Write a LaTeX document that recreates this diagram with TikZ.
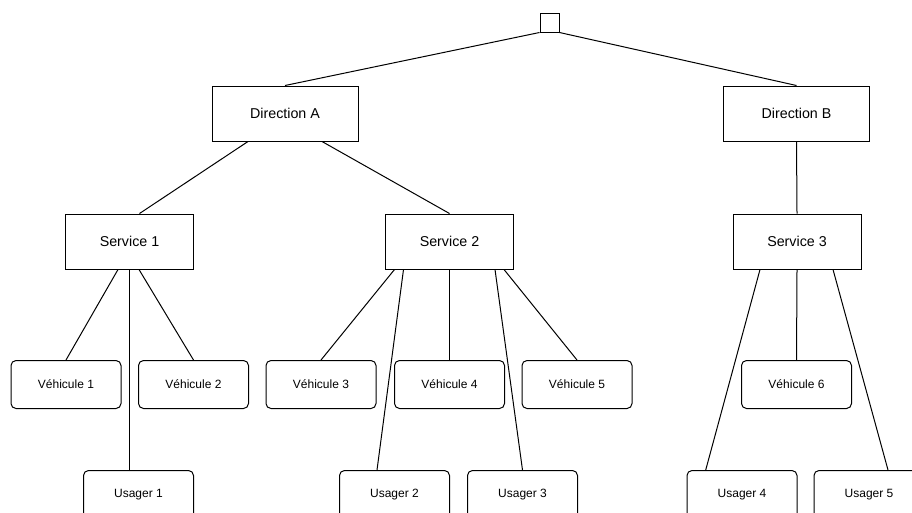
\documentclass[tikz,border=0pt]{standalone}
\usepackage{fontspec}
\setmainfont{Liberation Sans}
\usetikzlibrary{calc}

\tikzset{every picture/.style={line width=0.75pt}}
\tikzset{
  rootbox/.style={draw, minimum width=14.25pt, minimum height=14.25pt, inner sep=0pt},
  dirbox/.style={draw, minimum width=109.5pt, minimum height=41.25pt, inner sep=0pt, font=\fontsize{10.7}{13}\selectfont},
  servbox/.style={draw, minimum width=96pt, minimum height=41.25pt, inner sep=0pt, font=\fontsize{10.7}{13}\selectfont},
  leafbox/.style={draw, rounded corners=3.75pt, minimum width=82.5pt, minimum height=36pt, inner sep=0pt, font=\fontsize{9}{11}\selectfont},
  link/.style={line width=0.75pt}
}

\begin{document}
\begin{tikzpicture}[x=0.75pt,y=0.75pt,yscale=-1,xscale=1]
%set diagram left start at 0, and has height of 512
\clip (0,0) rectangle (912,512);

%Shape: Square [id:root]
\node [rootbox] (root) at (549.5,22.5) {};

%Shape: Rectangle [id:directions]
\node [dirbox] (dirA) at (285,113.5) {Direction A};
\node [dirbox] (dirB) at (796.5,113.5) {Direction B};

%Shape: Rectangle [id:services]
\node [servbox] (serv1) at (129.5,241.5) {Service 1};
\node [servbox] (serv2) at (449.5,241.5) {Service 2};
\node [servbox] (serv3) at (797,241.5) {Service 3};

%Rounded Rect [id:vehicules]
\node [leafbox] (veh1) at (66,384.5) {Véhicule 1};
\node [leafbox] (veh2) at (193.5,384.5) {Véhicule 2};
\node [leafbox] (veh3) at (321,384.5) {Véhicule 3};
\node [leafbox] (veh4) at (449.5,384.5) {Véhicule 4};
\node [leafbox] (veh5) at (577,384.5) {Véhicule 5};
\node [leafbox] (veh6) at (796.5,384.5) {Véhicule 6};

%Rounded Rect [id:usagers]
\node [leafbox] (usr1) at (138.5,494.5) {Usager 1};
\node [leafbox] (usr2) at (394.5,494.5) {Usager 2};
\node [leafbox] (usr3) at (522.5,494.5) {Usager 3};
\node [leafbox] (usr4) at (742,494.5) {Usager 4};
\node [leafbox] (usr5) at (869,494.5) {Usager 5};

%Straight Lines [id:root links]
\draw [link] (root.south west) -- (dirA.north) ;
\draw [link] (root.south east) -- (dirB.north) ;
%Straight Lines [id:direction links]
\draw [link] ($(dirA.south)+(-37,0)$) -- ($(serv1.north)+(10,0)$) ;
\draw [link] ($(dirA.south)+(37,0)$) -- (serv2.north) ;
\draw [link] (dirB.south) -- (serv3.north) ;
%Straight Lines [id:service 1 links]
\draw [link] ($(serv1.south)+(-11.5,0)$) -- (veh1.north) ;
\draw [link] (serv1.south) -- ($(usr1.north)+(-9,0)$) ;
\draw [link] ($(serv1.south)+(9.5,0)$) -- (veh2.north) ;
%Straight Lines [id:service 2 links]
\draw [link] ($(serv2.south)+(-55,0)$) -- (veh3.north) ;
\draw [link] ($(serv2.south)+(-46,0)$) -- ($(usr2.north)+(-17.5,0)$) ;
\draw [link] (serv2.south) -- (veh4.north) ;
\draw [link] ($(serv2.south)+(45.5,0)$) -- (usr3.north) ;
\draw [link] ($(serv2.south)+(54.5,0)$) -- (veh5.north) ;
%Straight Lines [id:service 3 links]
\draw [link] ($(serv3.south)+(-37,0)$) -- ($(usr4.north)+(-36.3,0)$) ;
\draw [link] (serv3.south) -- (veh6.north) ;
\draw [link] ($(serv3.south)+(36,0)$) -- ($(usr5.north)+(19,0)$) ;

\end{tikzpicture}
\end{document}
